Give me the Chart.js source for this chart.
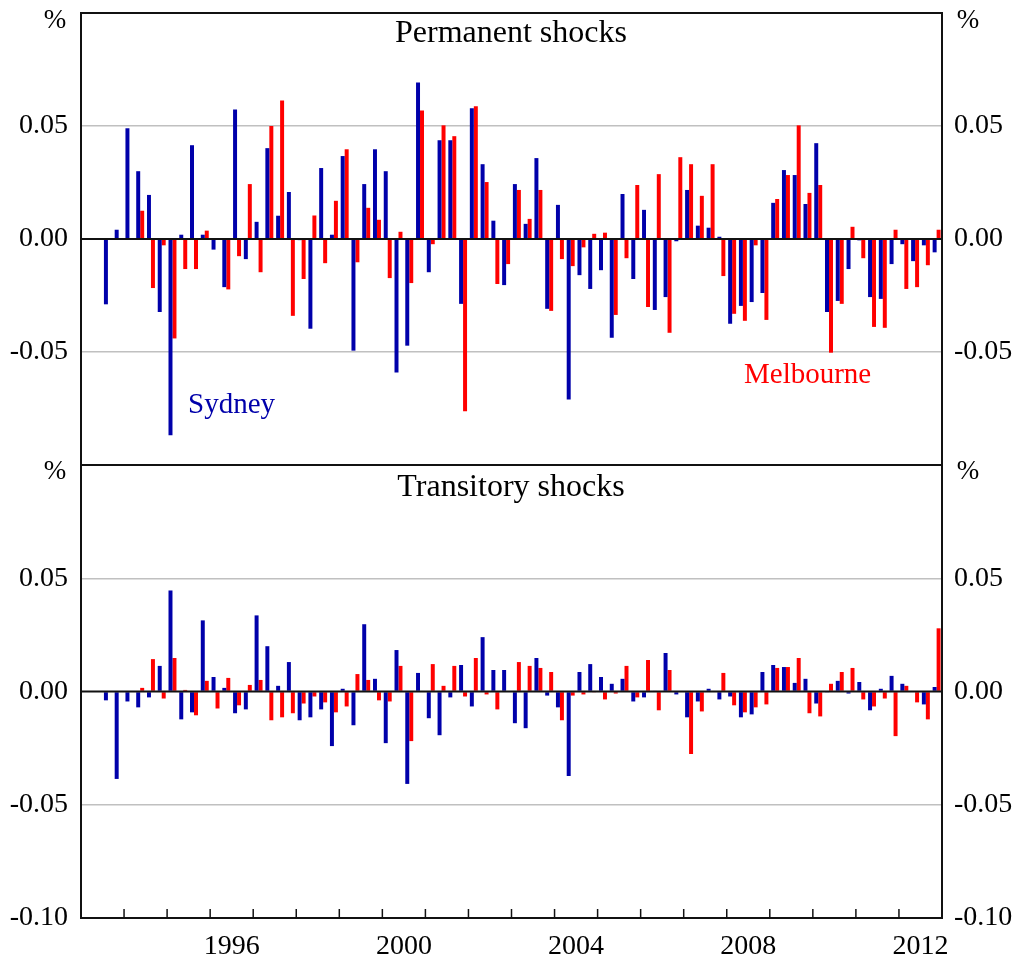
<!DOCTYPE html>
<html><head><meta charset="utf-8">
<script src="https://cdn.jsdelivr.net/npm/chart.js@4.4.1/dist/chart.umd.min.js"></script>
<style>
html,body{margin:0;padding:0;background:#fff;}
#wrap{position:relative;width:1015px;height:962px;background:#fff;}
canvas{position:absolute;left:0;top:0;}
</style></head><body>
<div id="wrap"><canvas id="c1" width="1015" height="962"></canvas><canvas id="c2" width="1015" height="962"></canvas></div>
<script>
// ---- data ----
const years = [1993,1994,1995,1996,1997,1998,1999,2000,2001,2002,2003,2004,2005,2006,2007,2008,2009,2010,2011,2012];
const quarterNames = ['Q1','Q2','Q3','Q4'];
const quarters = [];
years.forEach(y => quarterNames.forEach(q => quarters.push(y + q)));
const yearLabels = ['1996','2000','2004','2008','2012'];

const permSydney = [null,null,-0.0289,0.0041,0.049,0.030,0.0195,-0.0323,-0.0868,0.0019,
 0.0415,0.0019,-0.0047,-0.0213,0.0573,-0.0089,0.0076,0.0402,0.0103,0.0208,
 -0.0005,-0.0397,0.0314,0.0019,0.0367,-0.0494,0.0243,0.0397,0.030,-0.0591,
 -0.0472,0.0692,-0.0147,0.0437,0.0437,-0.0287,0.0578,0.0331,0.0081,-0.0204,
 0.0243,0.0067,0.0358,-0.0309,0.0151,-0.071,-0.016,-0.0221,-0.0138,-0.0437,
 0.0199,-0.0177,0.0129,-0.0314,-0.0257,-0.001,0.0217,0.0059,0.005,0.001,
 -0.0375,-0.0296,-0.0279,-0.0239,0.016,0.0305,0.0283,0.0155,0.0424,-0.0323,
 -0.0274,-0.0133,-0.0006,-0.0257,-0.0265,-0.0111,-0.0023,-0.0098,-0.0028,-0.0059];
const permMelbourne = [null,null,null,null,null,0.0125,-0.0217,-0.0028,-0.044,-0.0133,
 -0.0133,0.0037,-0.0004,-0.0223,-0.0076,0.0243,-0.0147,0.050,0.0613,-0.034,
 -0.0177,0.0104,-0.0107,0.0169,0.0397,-0.0103,0.0138,0.0085,-0.0173,0.0032,
 -0.0195,0.0569,-0.0023,0.0503,0.0455,-0.0762,0.0587,0.0252,-0.0199,-0.0111,
 0.0217,0.0089,0.0217,-0.0318,-0.0089,-0.012,-0.0037,0.0023,0.0028,-0.0336,
 -0.0085,0.0239,-0.0301,0.0287,-0.0415,0.0362,0.0331,0.0191,0.0331,-0.0164,
 -0.0331,-0.0362,-0.0028,-0.0358,0.0177,0.0283,0.0503,0.0204,0.0239,-0.0503,
 -0.0287,0.0054,-0.0085,-0.0389,-0.0393,0.0041,-0.0221,-0.0213,-0.0116,0.0041];
const tranSydney = [null,null,-0.0039,-0.0386,-0.0044,-0.007,-0.0026,0.0113,0.0446,-0.0123,
 -0.0092,0.0314,0.0064,0.0016,-0.0096,-0.0079,0.0336,0.020,0.0025,0.013,
 -0.0127,-0.0114,-0.0079,-0.0241,0.0012,-0.0149,0.0297,0.0056,-0.0228,0.0183,
 -0.0408,0.0082,-0.0118,-0.0193,-0.0026,0.0117,-0.0066,0.024,0.0095,0.0095,
 -0.014,-0.0162,0.0148,-0.0018,-0.007,-0.0373,0.0086,0.0121,0.0064,0.0034,
 0.0056,-0.0044,-0.0026,0.0003,0.017,-0.0013,-0.0114,-0.0044,0.0012,-0.0035,
 -0.0022,-0.0114,-0.0101,0.0086,0.0117,0.0108,0.0038,0.0056,-0.0053,-0.0004,
 0.0047,-0.0009,0.0042,-0.0083,0.0012,0.0069,0.0034,0,-0.0057,0.002];
const tranMelbourne = [null,null,null,null,null,0.0016,0.0143,-0.0031,0.0148,0.0007,
 -0.0105,0.0047,-0.0075,0.006,-0.0061,0.0029,0.0051,-0.0127,-0.0114,-0.0096,
 -0.0053,-0.0022,-0.0048,-0.0092,-0.0066,0.0077,0.0051,-0.0039,-0.0044,0.0113,
 -0.0219,0,0.0121,0.0025,0.0113,-0.0022,0.0148,-0.0013,-0.0079,0,
 0.013,0.0113,0.0104,0.0086,-0.0127,-0.0018,-0.0013,-0.0004,-0.0035,-0.0009,
 0.0113,-0.0026,0.0139,-0.0083,0.0095,0,-0.0276,-0.0088,0,0.0082,
 -0.0061,-0.0092,-0.007,-0.0057,0.0104,0.0108,0.0148,-0.0096,-0.011,0.0034,
 0.0086,0.0104,-0.0035,-0.0066,-0.0031,-0.0197,0.0025,-0.0048,-0.0123,0.0279];

const topTicks = [-0.05, 0, 0.05];
const bottomTicks = [-0.1, -0.05, 0, 0.05];

// ---- style ----
const BLUE = '#0000aa', RED = '#ff0000';
const FONT = 'Liberation Serif, Times New Roman, serif';

function fmt(v, shown) {
  const r = Math.round(v * 100);
  return shown.some(s => Math.round(s * 100) === r) ? (r / 100).toFixed(2) : '';
}

const framePlugin = {
  id: 'frame',
  afterDatasetsDraw(chart, args, opts) {
    const ctx = chart.ctx, a = chart.chartArea;
    const ys = chart.scales.y;
    ctx.save();
    const z = ys.getPixelForValue(0);
    ctx.strokeStyle = '#111'; ctx.lineWidth = 2;
    ctx.beginPath(); ctx.moveTo(a.left, z); ctx.lineTo(a.right, z); ctx.stroke();
    ctx.strokeRect(a.left, a.top, a.right - a.left, a.bottom - a.top);
    if (opts.yearTicks) {
      const xs = chart.scales.x;
      ctx.lineWidth = 1.5;
      for (let i = 4; i < quarters.length; i += 4) {
        const x = (xs.getPixelForTick(i - 1) + xs.getPixelForTick(i)) / 2;
        ctx.beginPath(); ctx.moveTo(x, a.bottom); ctx.lineTo(x, a.bottom - 9); ctx.stroke();
      }
    }
    (opts.texts || []).forEach(t => {
      ctx.font = t.size + 'px ' + FONT;
      ctx.fillStyle = t.color || '#000';
      ctx.textAlign = t.align || 'left';
      ctx.textBaseline = 'alphabetic';
      ctx.fillText(t.text, t.x, t.y);
    });
    ctx.restore();
  }
};

function makeChart(id, sydney, melbourne, shown, padTop, padBottom, showX, texts) {
  return new Chart(document.getElementById(id), {
    type: 'bar',
    data: {
      labels: quarters,
      datasets: [
        { label: 'Sydney', data: sydney, backgroundColor: BLUE, yAxisID: 'y' },
        { label: 'Melbourne', data: melbourne, backgroundColor: RED, yAxisID: 'y' }
      ]
    },
    options: {
      responsive: false,
      animation: false,
      devicePixelRatio: 1,
      layout: { padding: { top: padTop, bottom: padBottom, left: 0, right: 0 } },
      datasets: { bar: { categoryPercentage: 0.74, barPercentage: 1.0, borderWidth: 0 } },
      plugins: {
        legend: { display: false }, tooltip: { enabled: false }, title: { display: false },
        frame: { texts: texts, yearTicks: showX }
      },
      scales: {
        x: {
          type: 'category',
          display: showX,
          offset: true,
          grid: { display: false, drawTicks: false },
          border: { display: false },
          ticks: {
            autoSkip: false, maxRotation: 0, minRotation: 0, padding: 12, labelOffset: 5.4,
            color: '#000', font: { family: FONT, size: 28 },
            callback: function (v, i) {
              const l = quarters[i];
              const y = l.slice(0, 4);
              return (l.endsWith('Q2') && yearLabels.includes(y)) ? y : '';
            }
          },
          afterFit: s => { s.height = showX ? 44 : 0; s.paddingLeft = 0; s.paddingRight = 0; }
        },
        y: {
          position: 'left', min: -0.1, max: 0.1,
          grid: {
            drawTicks: false,
            color: c => Math.abs(Math.abs(c.tick.value) - 0.05) < 1e-6 ? '#c0c0c0' : 'rgba(0,0,0,0)',
            lineWidth: 1.5
          },
          border: { display: false },
          ticks: { stepSize: 0.05, padding: 13, color: '#000', font: { family: FONT, size: 28 },
            callback: v => fmt(v, shown) },
          afterFit: s => { s.width = 81; s.paddingTop = 0; s.paddingBottom = 0; }
        },
        y2: {
          position: 'right', min: -0.1, max: 0.1,
          grid: { drawOnChartArea: false, drawTicks: false },
          border: { display: false },
          ticks: { stepSize: 0.05, padding: 12, color: '#000', font: { family: FONT, size: 28 },
            callback: v => fmt(v, shown) },
          afterFit: s => { s.width = 73; s.paddingTop = 0; s.paddingBottom = 0; }
        }
      }
    },
    plugins: [framePlugin]
  });
}

makeChart('c1', permSydney, permMelbourne, topTicks, 13, 962 - 465, false, [
  { text: '%', x: 55, y: 28, size: 27, align: 'center' },
  { text: '%', x: 968, y: 28, size: 27, align: 'center' },
  { text: 'Permanent shocks', x: 511, y: 42, size: 32, align: 'center' },
  { text: 'Sydney', x: 188, y: 413, size: 29, color: BLUE },
  { text: 'Melbourne', x: 744, y: 383, size: 29, color: RED }
]);
makeChart('c2', tranSydney, tranMelbourne, bottomTicks, 465, 0, true, [
  { text: '%', x: 55, y: 479, size: 27, align: 'center' },
  { text: '%', x: 968, y: 479, size: 27, align: 'center' },
  { text: 'Transitory shocks', x: 511, y: 496, size: 32, align: 'center' }
]);
</script>
</body></html>
